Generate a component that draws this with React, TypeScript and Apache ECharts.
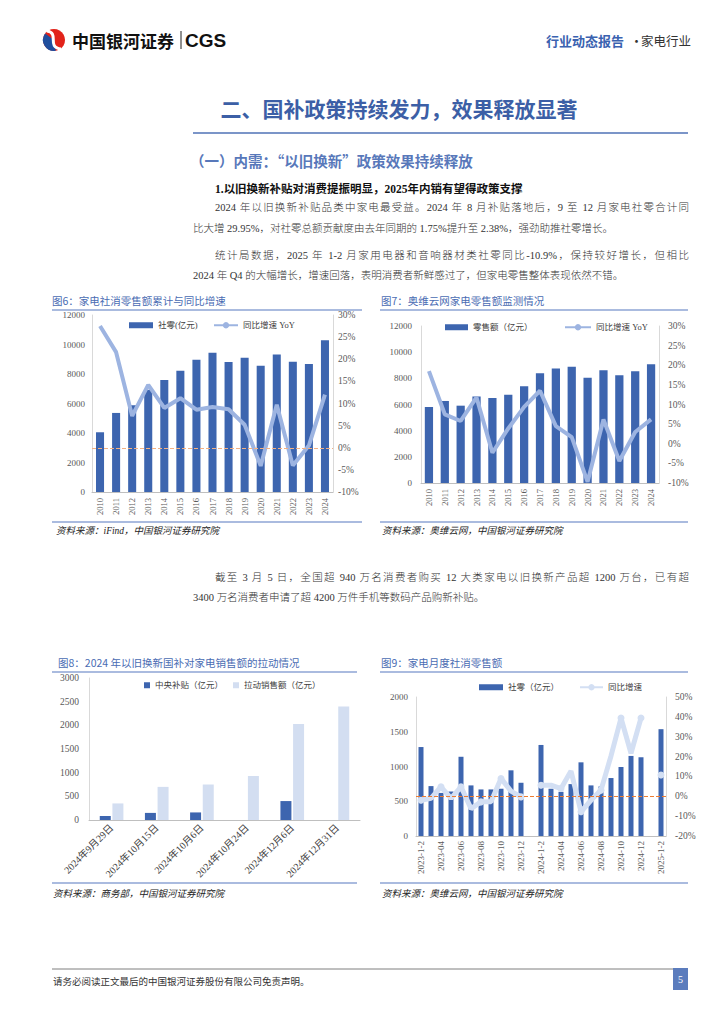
import React, { useEffect, useRef } from 'react';
import * as echarts from 'echarts';

const SERIF = "'Liberation Serif','Noto Sans CJK SC',serif";
const CJK = "'Noto Sans CJK SC','Noto Sans',sans-serif";
const DARK = '#3D65AF';
const LINE_BLUE = '#9DB4E1';
const LIGHT = '#D3DEF1';
const LIGHT_LINE = '#D3DFF3';
const TITLE_BLUE = '#4A6CB3';

// ---------- data ----------
const years = ['2010', '2011', '2012', '2013', '2014', '2015', '2016', '2017', '2018', '2019', '2020', '2021', '2022', '2023', '2024'];
const fig6Retail = [4050, 5360, 5880, 6940, 7590, 8220, 8960, 9440, 8810, 9100, 8560, 9320, 8830, 8680, 10290];
const fig6Yoy = [27.5, 21.6, 7.2, 14.2, 9.0, 11.2, 8.6, 9.2, 8.7, 5.2, -4.1, 9.7, -4.0, 0.5, 12.0];
const fig7Retail = [5810, 6270, 5910, 6620, 6500, 6750, 7390, 8380, 8760, 8890, 8050, 8610, 8230, 8540, 9070];
const fig7Yoy = [18.5, 7.5, 5.8, 11.8, -2.3, 3.9, 9.4, 13.5, 4.5, 1.7, -9.7, 6.2, -4.4, 3.0, 6.2];
const fig8Dates = ['2024年9月29日', '2024年10月15日', '2024年10月6日', '2024年10月24日', '2024年12月6日', '2024年12月31日'];
const fig8Subsidy = [85, 150, 160, null, 400, null];
const fig8Sales = [350, 700, 750, 930, 2030, 2400];
const fig9Months = ['2023-1-2', '2023-03', '2023-04', '2023-05', '2023-06', '2023-07', '2023-08', '2023-09', '2023-10', '2023-11', '2023-12', '2024-01',
  '2024-1-2', '2024-03', '2024-04', '2024-05', '2024-06', '2024-07', '2024-08', '2024-09', '2024-10', '2024-11', '2024-12', '2025-01', '2025-1-2'];
const fig9Retail = [1280, 718, 620, 640, 1140, 728, 670, 670, 680, 945, 766, null, 1310, 680, 636, 747, 1060, 728, 713, 834, 993, 1152, 1133, null, 1537];
const fig9Yoy = [-2.0, -1.0, 4.8, -1.1, 4.8, -6.2, -2.8, -2.8, 9.0, 2.6, -0.3, null, 5.6, 5.6, 3.9, 12.7, -7.8, -2.0, 3.1, 20.3, 39.4, 21.7, 39.4, null, 10.7];

const paragraphs = [
  { text: '2024 年以旧换新补贴品类中家电最受益。2024 年 8 月补贴落地后，9 至 12 月家电社零合计同', x: 215, y: 208, full: true },
  { text: '比大增 29.95%，对社零总额贡献度由去年同期的 1.75%提升至 2.38%，强劲助推社零增长。', x: 193, y: 229, full: false },
  { text: '统计局数据，2025 年 1-2 月家用电器和音响器材类社零同比-10.9%，保持较好增长，但相比', x: 215, y: 256, full: true },
  { text: '2024 年 Q4 的大幅增长，增速回落，表明消费者新鲜感过了，但家电零售整体表现依然不错。', x: 193, y: 276, full: false },
  { text: '截至 3 月 5 日，全国超 940 万名消费者购买 12 大类家电以旧换新产品超 1200 万台，已有超', x: 215, y: 578, full: true },
  { text: '3400 万名消费者申请了超 4200 万件手机等数码产品购新补贴。', x: 193, y: 598, full: false },
];

// ---------- helpers ----------
const plain = (v: number) => String(v);
const pct = (v: number) => v + '%';
const tickLabel = (size: number, extra: any = {}) => ({ color: '#595959', fontSize: size, fontFamily: SERIF, ...extra });
const vLine = { show: true, lineStyle: { color: '#D9D9D9', width: 1 } };

const catAxis = (gridIndex: number, data: string[], extra: any = {}) => ({
  type: 'category', gridIndex, data,
  axisLine: { show: true, lineStyle: { color: '#BFBFBF', width: 1 } },
  axisTick: { show: false },
  splitLine: { show: false },
  ...extra,
});
const valAxis = (gridIndex: number, min: number, max: number, interval: number, position: string, label: any, showLine = true) => ({
  type: 'value', gridIndex, min, max, interval, position,
  axisLine: showLine ? vLine : { show: false },
  axisTick: { show: false },
  splitLine: { show: false },
  axisLabel: label,
});

const txt = (text: string, x: number, y: number, size: number, fill: string, extra: any = {}, family = CJK) => ({
  type: 'text', x, y, silent: true,
  style: { text, fill, fontSize: size, fontFamily: family, align: 'left', verticalAlign: 'middle', ...extra },
});
const hline = (x1: number, x2: number, y: number, stroke: string, w: number) => ({
  type: 'line', silent: true, shape: { x1, y1: y, x2, y2: y }, style: { stroke, lineWidth: w },
});

const legendText = { fontSize: 8.5, color: '#404040', fontFamily: SERIF };
const mkLegend = (name: string, left: number, top: number, w: number, h: number, icon?: string) => ({
  data: [name], left, top, itemWidth: w, itemHeight: h, itemGap: 0, padding: 0,
  ...(icon ? { icon } : {}),
  textStyle: legendText, selectedMode: false,
});

function buildOption(): any {
  const graphic: any[] = [
    // logo
    { type: 'circle', shape: { cx: 54, cy: 40, r: 11 }, style: { fill: '#E2231A' } },
    { type: 'sector', shape: { cx: 54, cy: 40, r: 11, r0: 0, startAngle: Math.PI * 0.45, endAngle: Math.PI * 1.2 }, style: { fill: '#1F4E9E' } },
    { type: 'bezierCurve', shape: { x1: 47, y1: 31, cpx1: 60, cpy1: 33, cpx2: 46, cpy2: 47, x2: 61, y2: 49 }, style: { stroke: '#fff', lineWidth: 3, fill: 'none' } },
    txt('中国银河证券', 72, 40, 17, '#111', { fontWeight: 'bold' }),
    { type: 'line', shape: { x1: 181, y1: 31, x2: 181, y2: 49 }, style: { stroke: '#222', lineWidth: 1 } },
    txt('CGS', 185, 40, 19, '#111', { fontWeight: 'bold' }, "'Liberation Sans',Arial,sans-serif"),
    txt('行业动态报告', 546, 40, 13, '#3A62B0', { fontWeight: 'bold' }),
    txt('·', 630, 40, 13, '#333'),
    txt('家电行业', 641, 40, 12.5, '#333'),
    // section title
    txt('二、国补政策持续发力，效果释放显著', 399, 108, 21, '#3C5FA6', { fontWeight: 'bold', align: 'center' }),
    hline(193, 688, 133, '#4F72B6', 1.5),
    txt('（一）内需：“以旧换新”政策效果持续释放', 190, 160, 14.5, '#5878BA', { fontWeight: 'bold' }),
    txt('1.以旧换新补贴对消费提振明显，2025年内销有望得政策支撑', 215, 189, 11.5, '#111', { fontWeight: 'bold' }, SERIF),
    // fig 6 frame
    txt('图6：家电社消零售额累计与同比增速', 52, 300, 10.5, TITLE_BLUE),
    hline(52, 362, 310, '#8EA5D4', 1.5),
    hline(52, 362, 522, '#8EA5D4', 1.5),
    txt('资料来源：iFind，中国银河证券研究院', 56, 531, 9.5, '#222', { fontStyle: 'italic' }, SERIF),
    // fig 7 frame
    txt('图7：奥维云网家电零售额监测情况', 381, 300, 10.5, TITLE_BLUE),
    hline(380, 688, 310, '#8EA5D4', 1.5),
    hline(380, 688, 522, '#8EA5D4', 1.5),
    txt('资料来源：奥维云网，中国银河证券研究院', 382, 531, 9.5, '#222', { fontStyle: 'italic' }, SERIF),
    // fig 8 frame
    txt('图8：2024 年以旧换新国补对家电销售额的拉动情况', 58, 662, 10.5, TITLE_BLUE),
    hline(52, 357, 672, '#8EA5D4', 1.5),
    hline(52, 357, 883, '#8EA5D4', 1.5),
    txt('资料来源：商务部，中国银河证券研究院', 53, 894, 9.5, '#222', { fontStyle: 'italic' }, SERIF),
    // fig 9 frame
    txt('图9：家电月度社消零售额', 381, 662, 10.5, TITLE_BLUE),
    hline(380, 688, 672, '#8EA5D4', 1.5),
    hline(380, 688, 883, '#8EA5D4', 1.5),
    txt('资料来源：奥维云网，中国银河证券研究院', 382, 894, 9.5, '#222', { fontStyle: 'italic' }, SERIF),
    // footer
    hline(52, 674, 969, '#7F7F7F', 1),
    txt('请务必阅读正文最后的中国银河证券股份有限公司免责声明。', 53, 981, 9.5, '#333'),
    { type: 'rect', shape: { x: 673, y: 968, width: 15, height: 22 }, style: { fill: '#5B7CBD' } },
    txt('5', 680.5, 979, 10, '#fff', { align: 'center' }, SERIF),
  ];

  return {
    animation: false,
    backgroundColor: '#fff',
    graphic,
    legend: [
      mkLegend('社零(亿元)', 129, 321, 24, 6, 'rect'),
      mkLegend('同比增速 YoY', 213, 321, 24, 8),
      mkLegend('零售额（亿元）', 445, 323, 23, 6, 'rect'),
      mkLegend('同比增速 YoY', 564, 323, 26, 8),
      mkLegend('中央补贴（亿元）', 144, 681, 6, 6, 'rect'),
      mkLegend('拉动销售额（亿元）', 233, 681, 6, 6, 'rect'),
      mkLegend('社零（亿元）', 479, 683, 24, 6, 'rect'),
      mkLegend('同比增速', 579, 683, 23, 8),
    ],
    grid: [
      { left: 92, top: 315, width: 241, height: 177 },
      { left: 421, top: 326, width: 238, height: 157 },
      { left: 89, top: 678, width: 271, height: 142 },
      { left: 416, top: 697, width: 250, height: 139 },
    ],
    xAxis: [
      catAxis(0, years, { axisLabel: tickLabel(8.5, { rotate: 90, interval: 0, margin: 6 }) }),
      catAxis(1, years, { axisLabel: tickLabel(8.5, { rotate: 90, interval: 0, margin: 6 }) }),
      catAxis(2, fig8Dates, { axisLabel: tickLabel(10, { rotate: 45, interval: 0, margin: 6, color: '#404040' }) }),
      catAxis(3, fig9Months, { axisLabel: tickLabel(9, { rotate: 90, interval: 1, margin: 5 }) }),
    ],
    yAxis: [
      valAxis(0, 0, 12000, 2000, 'left', tickLabel(9, { margin: 7, formatter: plain })),
      valAxis(0, -10, 30, 5, 'right', tickLabel(9.5, { margin: 5, formatter: pct })),
      valAxis(1, 0, 12000, 2000, 'left', tickLabel(9, { margin: 9, formatter: plain })),
      valAxis(1, -10, 30, 5, 'right', tickLabel(9.5, { margin: 9, formatter: pct })),
      valAxis(2, 0, 3000, 500, 'left', tickLabel(9.5, { margin: 10, formatter: plain })),
      valAxis(3, 0, 2000, 500, 'left', tickLabel(9, { margin: 8, formatter: plain })),
      valAxis(3, -20, 50, 10, 'right', tickLabel(9.5, { margin: 9, formatter: pct })),
    ],
    series: [
      { name: '社零(亿元)', type: 'bar', xAxisIndex: 0, yAxisIndex: 0, data: fig6Retail, barWidth: '50%', itemStyle: { color: DARK } },
      {
        name: '同比增速 YoY', type: 'line', xAxisIndex: 0, yAxisIndex: 1, data: fig6Yoy, symbol: 'none',
        lineStyle: { color: LINE_BLUE, width: 4 }, itemStyle: { color: LINE_BLUE },
        markLine: { silent: true, symbol: ['none', 'none'], label: { show: false }, lineStyle: { color: '#F4B183', type: 'dashed', width: 1 }, data: [{ yAxis: 0 }] },
      },
      { name: '零售额（亿元）', type: 'bar', xAxisIndex: 1, yAxisIndex: 2, data: fig7Retail, barWidth: '52%', itemStyle: { color: DARK } },
      { name: '同比增速 YoY', type: 'line', xAxisIndex: 1, yAxisIndex: 3, data: fig7Yoy, symbol: 'none', lineStyle: { color: LINE_BLUE, width: 4 }, itemStyle: { color: LINE_BLUE } },
      { name: '中央补贴（亿元）', type: 'bar', xAxisIndex: 2, yAxisIndex: 4, data: fig8Subsidy, barWidth: 11, barGap: '15%', itemStyle: { color: DARK } },
      { name: '拉动销售额（亿元）', type: 'bar', xAxisIndex: 2, yAxisIndex: 4, data: fig8Sales, barWidth: 11, barGap: '15%', itemStyle: { color: LIGHT } },
      { name: '社零（亿元）', type: 'bar', xAxisIndex: 3, yAxisIndex: 5, data: fig9Retail, barWidth: '50%', itemStyle: { color: DARK } },
      {
        name: '同比增速', type: 'line', xAxisIndex: 3, yAxisIndex: 6, data: fig9Yoy, symbol: 'circle', symbolSize: 7, showSymbol: true,
        connectNulls: false, lineStyle: { color: LIGHT_LINE, width: 5 }, itemStyle: { color: LIGHT_LINE },
        markLine: { silent: true, symbol: ['none', 'none'], label: { show: false }, lineStyle: { color: '#ED7D31', type: 'dashed', width: 1 }, data: [{ yAxis: 0 }] },
      },
    ],
  };
}

export default function App() {
  const ref = useRef<HTMLDivElement>(null);
  useEffect(() => {
    const chart = echarts.init(ref.current as HTMLDivElement, null, { renderer: 'svg' });
    chart.setOption(buildOption());
    return () => chart.dispose();
  }, []);
  return (
    <div style={{ position: 'absolute', left: 0, top: 0, width: 724, height: 1024, background: '#fff', overflow: 'hidden' }}>
      <div ref={ref} style={{ position: 'absolute', left: 0, top: 0, width: 724, height: 1024 }} />
      {paragraphs.map((p, i) => (
        <div key={i} lang="zh-CN" style={{
          position: 'absolute', left: p.x, top: p.y - 8, width: 689 - p.x, height: 16, lineHeight: '16px',
          fontSize: 10.5, fontFamily: SERIF, fontWeight: 300, color: '#333',
          textAlign: p.full ? 'justify' : 'left', textAlignLast: p.full ? 'justify' : 'left', whiteSpace: 'nowrap',
        } as any}>{p.text}</div>
      ))}
    </div>
  );
}
